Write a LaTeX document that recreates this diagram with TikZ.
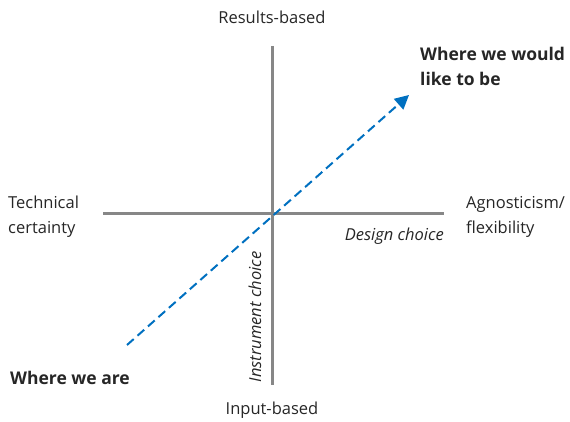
\documentclass[tikz,border=0pt]{standalone}
\usepackage{fontspec}
\setmainfont{Open Sans}
\usepackage{xcolor}
\usepackage{tikz}
\usetikzlibrary{arrows.meta}
\definecolor{axisgray}{RGB}{135,135,135}
\definecolor{pathblue}{RGB}{0,112,192}

\begin{document}
\begin{tikzpicture}[x=1pt, y=-1pt, every node/.style={inner sep=0pt, font=\fontsize{16.5}{25}\selectfont, text=black!85}, axis/.style={draw=axisgray, line width=3pt}, path/.style={draw=pathblue, line width=2pt, dash pattern=on 9pt off 5pt, -{Triangle[length=14pt,width=14pt]}}]
\useasboundingbox (0,0) rectangle (570,422);
\coordinate (top) at (272,46);
\coordinate (bottom) at (272,385);
\coordinate (left) at (103,214);
\coordinate (right) at (444,214);
\coordinate (here) at (127,345);
\coordinate (goal) at (409,95);
\draw[axis] (top) -- (bottom);
\draw[axis] (left) -- (right);
\draw[path] (here) -- (goal);
\node (results) at (272,17) {Results-based};
\node (input) at (272,410) {Input-based};
\node (tech) [anchor=west, align=left] at (8,217) {Technical\\certainty};
\node (agn) [anchor=west, align=left] at (466,217) {Agnosticism/\\flexibility};
\node (design) [anchor=east, font=\fontsize{16.5}{18}\itshape] at (444,236) {Design choice};
\node (instr) [rotate=90, font=\fontsize{16.5}{18}\itshape] at (255,317) {Instrument choice};
\node (want) [anchor=west, align=left, font=\fontsize{17.5}{25}\bfseries] at (420,66) {Where we would\\like to be};
\node (now) [anchor=west, font=\fontsize{17.5}{25}\bfseries] at (10,378) {Where we are};
\end{tikzpicture}
\end{document}
